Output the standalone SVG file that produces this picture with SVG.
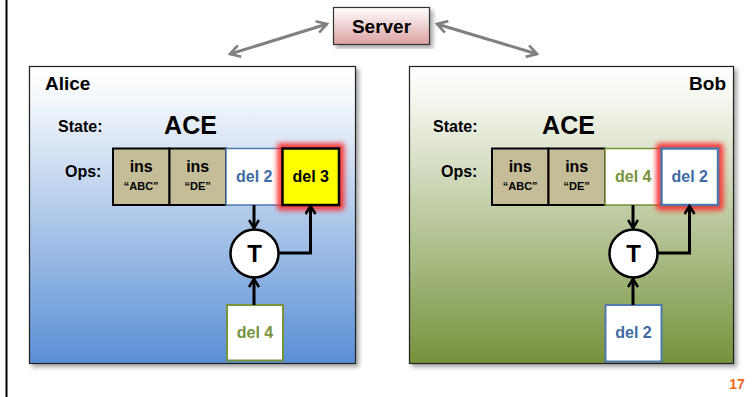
<svg xmlns="http://www.w3.org/2000/svg" width="754" height="397" viewBox="0 0 754 397">
<defs>
<linearGradient id="gA" x1="0" y1="0" x2="0" y2="1">
<stop offset="0" stop-color="#ffffff"/>
<stop offset="0.12" stop-color="#f2f6fb"/>
<stop offset="1" stop-color="#5a8fd5"/>
</linearGradient>
<linearGradient id="gB" x1="0" y1="0" x2="0" y2="1">
<stop offset="0" stop-color="#ffffff"/>
<stop offset="0.12" stop-color="#f4f6ee"/>
<stop offset="1" stop-color="#76923c"/>
</linearGradient>
<linearGradient id="gS" x1="0" y1="0" x2="0" y2="1">
<stop offset="0" stop-color="#ffffff"/>
<stop offset="1" stop-color="#dca0a0"/>
</linearGradient>
<filter id="sh" x="-5%" y="-5%" width="115%" height="115%">
<feDropShadow dx="3" dy="3" stdDeviation="2" flood-color="#000" flood-opacity="0.35"/>
</filter>
<filter id="glow" x="-30%" y="-30%" width="160%" height="160%">
<feGaussianBlur stdDeviation="2.5"/>
</filter>
<marker id="ah" viewBox="0 0 12 12" refX="10" refY="6" markerWidth="12" markerHeight="12" markerUnits="userSpaceOnUse" orient="auto">
<path d="M2,1 L10,6 L2,11" fill="none" stroke="#000" stroke-width="2.6"/>
</marker>
<marker id="gh" viewBox="0 0 14 14" refX="12" refY="7" markerWidth="14" markerHeight="14" markerUnits="userSpaceOnUse" orient="auto-start-reverse">
<path d="M2,1 L12,7 L2,13" fill="none" stroke="#808080" stroke-width="2.6"/>
</marker>
</defs>
<style>
text{font-family:"Liberation Sans",Arial,sans-serif;font-weight:bold;fill:#000}
.panel{stroke:#222;stroke-width:1.2}
.ins{fill:#c4bd97;stroke:#000;stroke-width:2}
.t16{font-size:16px;text-anchor:middle}
.q{font-size:11px;text-anchor:middle}
.blue{fill:#3e6ba3}
.green{fill:#77933c}
.lbl{font-size:16px}
.ace{font-size:25px;text-anchor:middle}
.glow{fill:#ff2020;opacity:0.85}
.conn{fill:none;stroke:#000;stroke-width:3;marker-end:url(#ah)}
.gray{fill:none;stroke:#808080;stroke-width:3;marker-start:url(#gh);marker-end:url(#gh)}
</style>
<rect width="754" height="397" fill="#fff"/>
<line x1="6.5" y1="0" x2="6.5" y2="397" stroke="#000" stroke-width="2"/>

<g id="server">
<rect x="333.5" y="7.5" width="96" height="37" fill="url(#gS)" stroke="#333" stroke-width="1.2" filter="url(#sh)"/>
<text x="381.5" y="33" font-size="19" text-anchor="middle">Server</text>
</g>

<g id="alice">
<rect class="panel" x="29.5" y="66.5" width="326" height="297" fill="url(#gA)" filter="url(#sh)"/>
<text x="45" y="90" font-size="19">Alice</text>
<text class="lbl" x="58" y="132">State:</text>
<text class="ace" x="190.5" y="134">ACE</text>
<text class="lbl" x="65" y="177">Ops:</text>
</g>
<g id="a-ins1"><rect class="ins" x="113" y="148.5" width="56.5" height="56.5"/><text class="t16" x="141.2" y="172">ins</text><text class="q" x="141.2" y="190">“ABC”</text></g>
<g id="a-ins2"><rect class="ins" x="169.5" y="148.5" width="56.5" height="56.5"/><text class="t16" x="197.7" y="172">ins</text><text class="q" x="197.7" y="190">“DE”</text></g>
<g id="a-del2"><rect x="226" y="148.5" width="56.5" height="56.5" fill="#fff" stroke="#4f79ad" stroke-width="1.5"/><text class="t16 blue" x="254.2" y="182">del 2</text></g>
<g id="a-del3"><rect class="glow" x="277" y="143" width="67.5" height="67.5" rx="4" filter="url(#glow)"/><rect x="282.5" y="148.5" width="56.5" height="56.5" fill="#ffff00" stroke="#000" stroke-width="2.5"/><text class="t16" x="310.7" y="182">del 3</text></g>
<g id="a-T"><circle cx="254.5" cy="253.5" r="24" fill="#fff" stroke="#000" stroke-width="2.5"/><text x="254.5" y="262" font-size="24" text-anchor="middle">T</text></g>
<g id="a-del4"><rect x="227" y="305" width="56" height="55.5" fill="#fff" stroke="#77933c" stroke-width="2"/><text class="t16 green" x="255" y="338">del 4</text></g>

<g id="bob">
<rect class="panel" x="409.5" y="66.5" width="324" height="297" fill="url(#gB)" filter="url(#sh)"/>
<text x="726" y="90" font-size="19" text-anchor="end">Bob</text>
<text class="lbl" x="433" y="132">State:</text>
<text class="ace" x="568.5" y="134">ACE</text>
<text class="lbl" x="441" y="177">Ops:</text>
</g>
<g id="b-ins1"><rect class="ins" x="492" y="148.5" width="56.5" height="56.5"/><text class="t16" x="520.2" y="172">ins</text><text class="q" x="520.2" y="190">“ABC”</text></g>
<g id="b-ins2"><rect class="ins" x="548.5" y="148.5" width="56.5" height="56.5"/><text class="t16" x="576.7" y="172">ins</text><text class="q" x="576.7" y="190">“DE”</text></g>
<g id="b-del4"><rect x="605" y="148.5" width="56.5" height="56.5" fill="#fff" stroke="#77933c" stroke-width="1.5"/><text class="t16 green" x="633.2" y="182">del 4</text></g>
<g id="b-del2"><rect class="glow" x="656" y="143" width="67.5" height="67.5" rx="4" filter="url(#glow)"/><rect x="661.5" y="148.5" width="56.5" height="56.5" fill="#fff" stroke="#4f79ad" stroke-width="2.5"/><text class="t16 blue" x="689.7" y="182">del 2</text></g>
<g id="b-T"><circle cx="633.5" cy="253.5" r="24" fill="#fff" stroke="#000" stroke-width="2.5"/><text x="633.5" y="262" font-size="24" text-anchor="middle">T</text></g>
<g id="b-del2b"><rect x="605.5" y="305" width="56" height="56.5" fill="#fff" stroke="#4f79ad" stroke-width="2"/><text class="t16 blue" x="633.5" y="338">del 2</text></g>

<g id="connectors">
<line class="gray" x1="230" y1="54" x2="327" y2="24"/>
<line class="gray" x1="437" y1="24" x2="537" y2="54"/>
<line class="conn" x1="254" y1="205" x2="254" y2="228"/>
<line class="conn" x1="254" y1="305" x2="254" y2="279"/>
<polyline class="conn" points="278.5,253 310.5,253 310.5,206"/>
<line class="conn" x1="633" y1="205" x2="633" y2="228"/>
<line class="conn" x1="633" y1="305" x2="633" y2="279"/>
<polyline class="conn" points="657.5,253 689.5,253 689.5,206"/>
</g>

<text x="737" y="389" font-size="14" text-anchor="middle" style="fill:#f26522">17</text>
</svg>
